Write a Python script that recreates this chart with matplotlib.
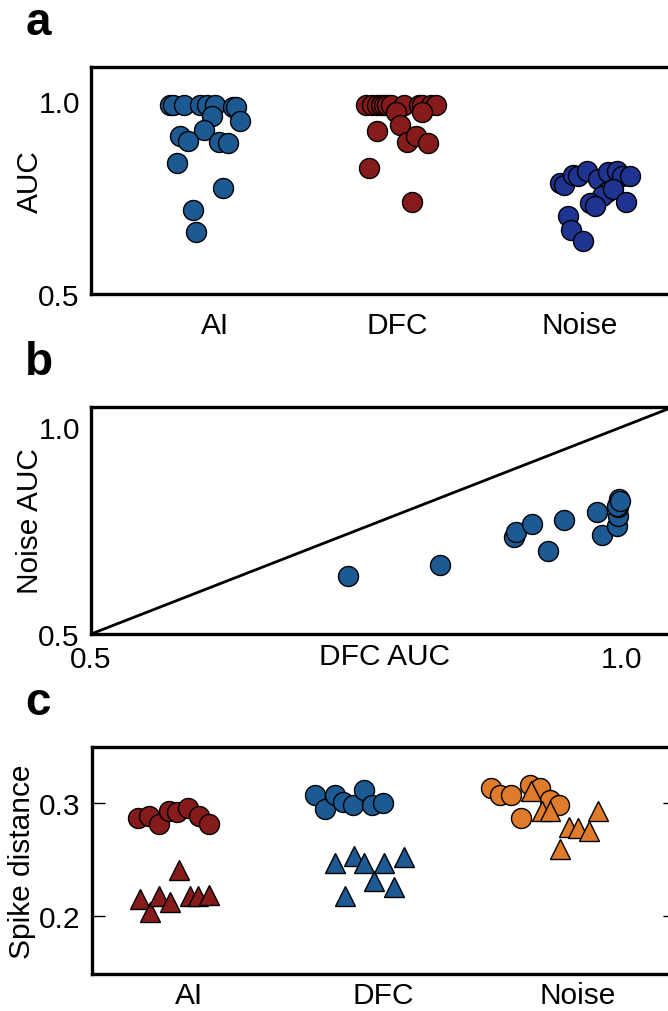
import matplotlib
matplotlib.use("Agg")
import matplotlib.pyplot as plt

plt.rcParams['font.family'] = ['Liberation Sans', 'DejaVu Sans']
plt.rcParams['font.size'] = 21.5

RED = '#861b1b'
BLUE = '#1d5a93'
NAVY = '#1f3391'
ORANGE = '#df7b2b'

# ---- panel a: AUC per condition (strip plot) ----
groups = ['AI', 'DFC', 'Noise']
auc_ai = [0.990, 0.990, 0.990, 0.990, 0.990, 0.990, 0.985, 0.985, 0.960, 0.949,
          0.925, 0.908, 0.897, 0.893, 0.891, 0.839, 0.774, 0.718, 0.661]
jit_ai = [-0.247, -0.228, -0.170, -0.082, -0.045, 0.000, 0.097, 0.115, -0.018, 0.137,
          -0.060, -0.192, -0.146, 0.024, 0.070, -0.210, 0.045, -0.122, -0.104]
auc_dfc = [0.990, 0.990, 0.990, 0.990, 0.990, 0.990, 0.990, 0.990, 0.990, 0.990,
           0.990, 0.990, 0.971, 0.972, 0.939, 0.923, 0.895, 0.909, 0.891, 0.826, 0.738]
jit_dfc = [-0.175, -0.139, -0.111, -0.093, -0.077, -0.056, -0.038, 0.033, 0.115, 0.135,
           0.181, 0.208, -0.011, 0.135, 0.013, -0.115, 0.053, 0.099, 0.166, -0.157, 0.077]
auc_noise = [0.788, 0.782, 0.808, 0.805, 0.819, 0.798, 0.815, 0.819, 0.805, 0.805,
             0.763, 0.755, 0.772, 0.736, 0.727, 0.739, 0.701, 0.666, 0.638]
jit_noise = [-0.110, -0.088, -0.037, -0.009, 0.037, 0.100, 0.155, 0.201, 0.228, 0.274,
             0.146, 0.119, 0.182, 0.055, 0.082, 0.252, -0.067, -0.049, 0.015]

# ---- panel b: DFC AUC vs Noise AUC ----
b_dfc = [0.742, 0.829, 0.898, 0.900, 0.915, 0.930, 0.945, 0.977, 0.981, 0.995,
         0.996, 0.996, 0.997, 0.997, 0.995, 0.998]
b_noise = [0.641, 0.667, 0.734, 0.746, 0.766, 0.701, 0.775, 0.794, 0.740, 0.762,
           0.786, 0.806, 0.818, 0.826, 0.810, 0.822]

# ---- panel c: spike distance (circles / triangles) ----
sd_ai_c = [0.2865, 0.288, 0.281, 0.293, 0.292, 0.295, 0.288, 0.281]
jx_ai_c = [-0.261, -0.209, -0.153, -0.106, -0.063, -0.004, 0.053, 0.100]
sd_ai_t = [0.215, 0.2035, 0.218, 0.212, 0.241, 0.218, 0.218, 0.219]
jx_ai_t = [-0.252, -0.204, -0.153, -0.101, -0.050, 0.002, 0.048, 0.100]
sd_dfc_c = [0.3065, 0.2947, 0.3065, 0.3006, 0.2976, 0.3109, 0.2976, 0.300]
jx_dfc_c = [-0.353, -0.301, -0.250, -0.207, -0.155, -0.100, -0.061, -0.001]
sd_dfc_t = [0.247, 0.218, 0.253, 0.247, 0.2305, 0.247, 0.2256, 0.252]
jx_dfc_t = [-0.250, -0.198, -0.152, -0.100, -0.049, 0.003, 0.054, 0.106]
sd_noise_c = [0.313, 0.3065, 0.3065, 0.286, 0.3153, 0.313, 0.302, 0.2976]
jx_noise_c = [-0.449, -0.398, -0.346, -0.295, -0.247, -0.196, -0.144, -0.096]
sd_noise_t = [0.310, 0.293, 0.293, 0.2588, 0.2785, 0.2777, 0.2747, 0.293]
jx_noise_t = [-0.243, -0.187, -0.141, -0.093, -0.045, 0.002, 0.058, 0.104]

fig = plt.figure(figsize=(6.68, 10.12), dpi=100)
ax_a = fig.add_axes([0.1362, 0.7085, 0.8743, 0.2243])
ax_b = fig.add_axes([0.1362, 0.3725, 0.8743, 0.2243])
ax_c = fig.add_axes([0.1377, 0.0366, 0.8728, 0.2243])

mk = dict(linestyle='none', markersize=14.4, markeredgecolor='black',
          markeredgewidth=1.0)


def style(ax):
    for sp in ax.spines.values():
        sp.set_linewidth(2.4)


# panel a
for i, (vals, jit, col) in enumerate([(auc_ai, jit_ai, BLUE),
                                       (auc_dfc, jit_dfc, RED),
                                       (auc_noise, jit_noise, NAVY)]):
    ax_a.plot([i + j for j in jit], vals, 'o', color=col, **mk)
ax_a.set_xlim(-0.68, 2.52)
ax_a.set_ylim(0.5, 1.088)
ax_a.set_xticks([0, 1, 2])
ax_a.set_xticklabels(groups)
ax_a.set_yticks([0.5, 1.0])
ax_a.set_yticklabels(['0.5', '1.0'])
ax_a.tick_params(axis='x', length=0, pad=12)
ax_a.tick_params(axis='y', length=0, pad=8)
ax_a.set_ylabel('AUC')
ax_a.yaxis.set_label_coords(-0.080, 0.5)
style(ax_a)

# panel b
ax_b.plot([0.5, 1.05], [0.5, 1.05], color='black', lw=2.0)
ax_b.plot(b_dfc, b_noise, 'o', color=BLUE, **mk)
ax_b.set_xlim(0.5, 1.05)
ax_b.set_ylim(0.5, 1.048)
ax_b.set_xticks([0.5, 1.0])
ax_b.set_xticklabels(['0.5', '1.0'])
ax_b.set_yticks([0.5, 1.0])
ax_b.set_yticklabels(['0.5', '1.0'])
ax_b.tick_params(axis='x', length=0, pad=8)
ax_b.tick_params(axis='y', length=0, pad=8)
ax_b.set_xlabel('DFC AUC', va='top')
ax_b.xaxis.set_label_coords(0.503, -0.035)
ax_b.set_ylabel('Noise AUC')
ax_b.yaxis.set_label_coords(-0.080, 0.5)
style(ax_b)

# panel c
sets_c = [(jx_ai_c, sd_ai_c, 0, 'o', RED), (jx_ai_t, sd_ai_t, 0, '^', RED),
          (jx_dfc_c, sd_dfc_c, 1, 'o', BLUE), (jx_dfc_t, sd_dfc_t, 1, '^', BLUE),
          (jx_noise_c, sd_noise_c, 2, 'o', ORANGE), (jx_noise_t, sd_noise_t, 2, '^', ORANGE)]
for jit, vals, i, m, col in sets_c:
    ax_c.plot([i + j for j in jit], vals, m, color=col, **mk)
ax_c.set_xlim(-0.5, 2.5)
ax_c.set_ylim(0.149, 0.349)
ax_c.set_xticks([0, 1, 2])
ax_c.set_xticklabels(groups)
ax_c.set_yticks([0.2, 0.3])
ax_c.set_yticklabels(['0.2', '0.3'])
ax_c.tick_params(axis='x', length=0, pad=5)
ax_c.tick_params(axis='y', direction='in', length=9, width=1.0, pad=8,
                 left=True, right=True)
ax_c.set_ylabel('Spike distance')
ax_c.yaxis.set_label_coords(-0.096, 0.5)
style(ax_c)

for lab, y in [('a', 0.9654), ('b', 0.6295), ('c', 0.2935)]:
    fig.text(0.038, y, lab, fontsize=33, fontweight='bold', va='baseline', ha='left')

fig.savefig('out.png', dpi=100)
